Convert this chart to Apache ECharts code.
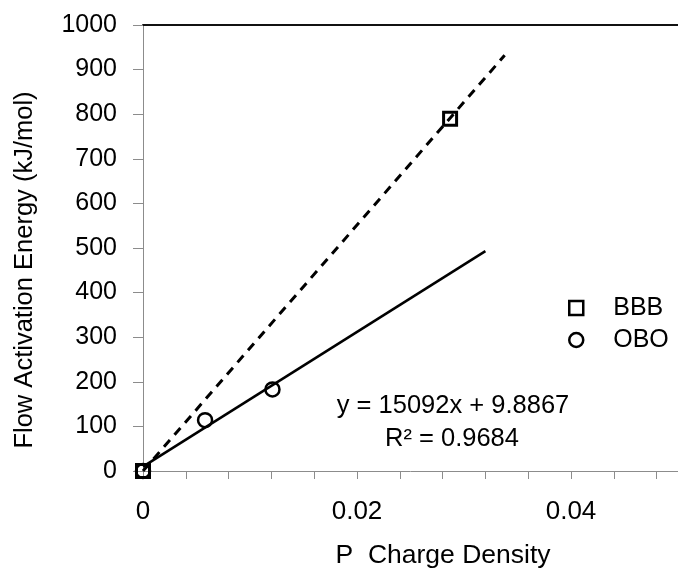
<!DOCTYPE html>
<html>
<head>
<meta charset="utf-8">
<script src="https://cdn.jsdelivr.net/npm/echarts@6/dist/echarts.min.js"></script>
<style>
html,body{margin:0;padding:0;background:#fff;}
#chart{width:678px;height:569px;}
</style>
</head>
<body>
<div id="chart"></div>
<script>
// ---- data ----
const bbbX = [0, 0.0287];
const bbbY = [0, 790];
const oboX = [0, 0.0058, 0.0121];
const oboY = [0, 114, 183];
// trendlines (end points)
const bbbTrendX = [0, 0.0338];
const bbbTrendY = [0, 932];
const oboTrendX = [0, 0.032];
const oboTrendY = [9.9, 493];
// axis tick labels
const xLabelValues = [0, 0.02, 0.04];
const xLabelTexts = ['0', '0.02', '0.04'];
const yTickValues = [0, 100, 200, 300, 400, 500, 600, 700, 800, 900, 1000];
const seriesNames = ['BBB', 'OBO'];
const xTitle = 'P  Charge Density';
const yTitle = 'Flow Activation Energy (kJ/mol)';
const eqLines = ['y = 15092x + 9.8867', 'R\u00B2 = 0.9684'];

function zip(xs, ys) { return xs.map((x, i) => [x, ys[i]]); }

const FONT = '"Liberation Sans", Arial, sans-serif';
const AXIS_GRAY = '#8c8c8c';
const TXT = '#000';

const chart = echarts.init(document.getElementById('chart'), null, {renderer: 'canvas'});
chart.setOption({
  animation: false,
  backgroundColor: '#ffffff',
  textStyle: {fontFamily: FONT, color: TXT},
  grid: {left: 143, top: 25, right: -4, bottom: 98, containLabel: false},
  xAxis: [{
    type: 'value', min: 0, max: 0.05, interval: 0.004,
    axisLine: {show: true, onZero: false, lineStyle: {color: AXIS_GRAY, width: 1}},
    axisTick: {show: true, inside: false, length: 8, lineStyle: {color: AXIS_GRAY, width: 1}},
    splitLine: {show: false},
    axisLabel: {
      margin: 28, fontSize: 26, fontFamily: FONT, color: TXT,
      showMaxLabel: false,
      formatter: function (v) {
        for (let i = 0; i < xLabelValues.length; i++) {
          if (Math.abs(v - xLabelValues[i]) < 1e-9) return xLabelTexts[i];
        }
        return '';
      }
    }
  }, {
    type: 'value', position: 'top', min: 0, max: 0.05,
    axisLine: {show: true, onZero: false, lineStyle: {color: '#111', width: 2}},
    axisTick: {show: false}, axisLabel: {show: false}, splitLine: {show: false}
  }],
  yAxis: {
    type: 'value', min: yTickValues[0], max: yTickValues[yTickValues.length - 1], interval: 100,
    axisLine: {show: true, onZero: false, lineStyle: {color: AXIS_GRAY, width: 1}},
    axisTick: {show: true, inside: false, length: 10, lineStyle: {color: AXIS_GRAY, width: 1}},
    splitLine: {show: false},
    axisLabel: {margin: 26, fontSize: 25, fontFamily: FONT, color: TXT,
      formatter: function (v) { return String(v); }}
  },
  legend: {
    data: seriesNames,
    orient: 'vertical',
    left: 568, top: 295,
    padding: 0,
    itemWidth: 14, itemHeight: 14,
    itemGap: 6,
    itemStyle: {color: 'rgba(0,0,0,0)', borderColor: '#000', borderWidth: 2.5, opacity: 1},
    textStyle: {fontSize: 25, fontFamily: FONT, color: TXT, lineHeight: 26, padding: [0, 0, 0, 25]},
    selectedMode: false
  },
  graphic: [
    {type: 'text', x: 24.5, y: 270, rotation: Math.PI / 2,
     style: {text: yTitle, fontSize: 25.5, fontFamily: FONT, fill: TXT, align: 'center', verticalAlign: 'middle'}},
    {type: 'text', x: 443, y: 556,
     style: {text: xTitle, fontSize: 26.5, fontFamily: FONT, fill: TXT, align: 'center', verticalAlign: 'middle'}},
    {type: 'text', x: 453, y: 406,
     style: {text: eqLines[0], fontSize: 25.5, fontFamily: FONT, fill: TXT, align: 'center', verticalAlign: 'middle'}},
    {type: 'text', x: 452, y: 438.5,
     style: {text: eqLines[1], fontSize: 25.5, fontFamily: FONT, fill: TXT, align: 'center', verticalAlign: 'middle'}}
  ],
  series: [
    {
      name: 'OBO trend', type: 'line', data: zip(oboTrendX, oboTrendY),
      showSymbol: false, symbol: 'none', silent: true, z: 2,
      lineStyle: {color: '#000', width: 2.5}
    },
    {
      name: 'BBB trend', type: 'line', data: zip(bbbTrendX, bbbTrendY),
      showSymbol: false, symbol: 'none', silent: true, z: 2,
      lineStyle: {color: '#000', width: 3, type: [9, 7]}
    },
    {
      name: seriesNames[0], type: 'scatter', data: zip(bbbX, bbbY), clip: false,
      symbol: 'rect', symbolSize: 13, z: 3,
      itemStyle: {color: 'rgba(0,0,0,0)', borderColor: '#000', borderWidth: 3, opacity: 1}
    },
    {
      name: seriesNames[1], type: 'scatter', data: zip(oboX, oboY), clip: false,
      symbol: 'circle', symbolSize: 14, z: 3,
      itemStyle: {color: 'rgba(0,0,0,0)', borderColor: '#000', borderWidth: 2.5, opacity: 1}
    }
  ]
});
</script>
</body>
</html>
